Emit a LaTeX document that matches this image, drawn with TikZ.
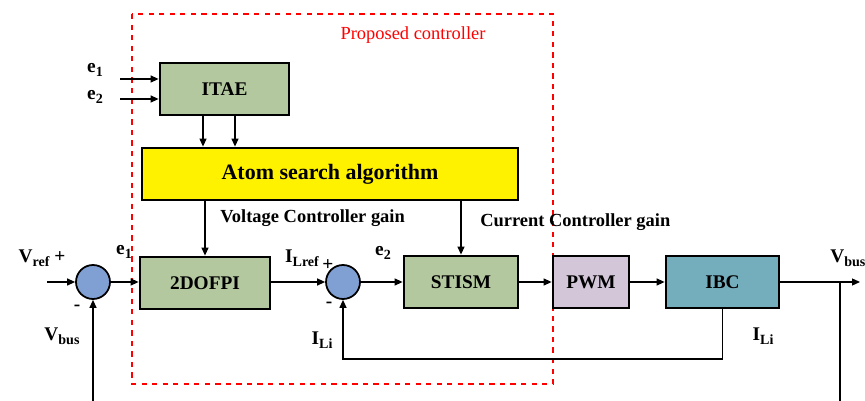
\documentclass[tikz,border=0pt]{standalone}
\usepackage{fontspec}
\setmainfont{Liberation Serif}
\usepackage{tikz}
\usetikzlibrary{shapes,arrows.meta,positioning,calc}
\usepackage{xcolor}
\definecolor{gblock}{RGB}{180,200,160}
\definecolor{pblock}{RGB}{210,198,216}
\definecolor{tblock}{RGB}{116,174,188}
\definecolor{sumblue}{RGB}{128,159,211}
\newcommand{\lsub}[1]{\raisebox{-0.45ex}{\fontsize{8}{9}\selectfont #1}}

\begin{document}
\begin{tikzpicture}[
    x=0.02cm, y=-0.02cm,
    block/.style={rectangle, draw, line width=1.6pt, fill=gblock, minimum height=1.04cm, align=center, font=\fontsize{11}{13}\selectfont\bfseries},
    sumnode/.style={circle, draw, line width=1pt, fill=sumblue, minimum size=0.68cm, inner sep=0pt},
    arrow/.style={-{Triangle[length=1.6mm,width=1.4mm]}, line width=0.7pt},
    lbl/.style={font=\fontsize{11}{13}\selectfont\bfseries, inner sep=0pt},
    every node/.style={font=\fontsize{11}{13}\selectfont}
]
    \useasboundingbox (0,0) rectangle (865,401);

    % Proposed controller frame
    \draw[red, dashed, line width=0.7pt] (132,14) rectangle (553,384);
    \node[red, font=\fontsize{10.5}{12}\selectfont] (prop) at (413,35) {Proposed controller};

    % Optimiser
    \node[block, minimum width=2.58cm] (itae) at (224.5,89) {ITAE};
    \node[block, fill=yellow, minimum width=7.52cm, font=\fontsize{12.5}{14}\selectfont\bfseries] (atom) at (330,174) {Atom search algorithm};

    % Loop blocks
    \node[sumnode] (sum1) at (93,282) {};
    \node[block, minimum width=2.6cm] (dofpi) at (205,283) {2DOFPI};
    \node[sumnode] (sum2) at (343,282) {};
    \node[block, minimum width=2.28cm] (stism) at (461,282) {STISM};
    \node[block, fill=pblock, minimum width=1.52cm] (pwm) at (591,282) {PWM};
    \node[block, fill=tblock, minimum width=2.26cm] (ibc) at (722.5,282) {IBC};

    % Free ends
    \coordinate (e1in) at (120,79);
    \coordinate (e2in) at (120,99);
    \coordinate (vin) at (47,282);
    \coordinate (vfb) at (93,401);
    \coordinate (vout) at (860,282);
    \coordinate (tap) at (840,282);
    \coordinate (tapend) at (840,401);
    \coordinate (ilfb) at (343,359);

    % Arrows
    \draw[arrow] (e1in) -- (e1in -| itae.west);
    \draw[arrow] (e2in) -- (e2in -| itae.west);
    \draw[arrow] ([xshift=-0.43cm]itae.south) -- ([xshift=-0.43cm]itae.south |- atom.north);
    \draw[arrow] ([xshift=0.21cm]itae.south) -- ([xshift=0.21cm]itae.south |- atom.north);
    \draw[arrow] (atom.south -| dofpi.north) -- (dofpi.north);
    \draw[arrow] (atom.south -| stism.north) -- (stism.north);
    \draw[arrow] (vin) -- (sum1.west);
    \draw[arrow] (sum1.east) -- (dofpi.west |- sum1.east);
    \draw[arrow] (dofpi.east |- sum2.west) -- (sum2.west);
    \draw[arrow] (sum2.east) -- (stism.west);
    \draw[arrow] (stism.east) -- (pwm.west);
    \draw[arrow] (pwm.east) -- (ibc.west);
    \draw[arrow] (ibc.east) -- (vout);
    \draw[line width=0.7pt] (tap) -- (tapend);
    \draw[arrow] (vfb) -- (sum1.south);
    \draw[arrow] (ibc.south) |- (ilfb) -- (sum2.south);

    % Labels
    \node[lbl] (le1) at (95,70) {e\lsub{1}};
    \node[lbl] (le2) at (95,97) {e\lsub{2}};
    \node[lbl] (lvref) at (42,258) {V\lsub{ref} +};
    \node[lbl] (le1b) at (124,252) {e\lsub{1}};
    \node[lbl] (lmin1) at (77,308) {-};
    \node[lbl] (lvbus) at (62,336) {V\lsub{bus}};
    \node[lbl, anchor=west, font=\fontsize{10.5}{12}\selectfont\bfseries] (lvgain) at (220,218) {Voltage Controller gain};
    \node[lbl, anchor=west, font=\fontsize{10.5}{12}\selectfont\bfseries] (lcgain) at (480,222) {Current Controller gain};
    \node[lbl] (lilref) at (302,258) {I\lsub{Lref}};
    \node[lbl] (lplus2) at (328,265) {+};
    \node[lbl] (le2b) at (383,253) {e\lsub{2}};
    \node[lbl] (lmin2) at (329,305) {-};
    \node[lbl] (lili) at (322,340) {I\lsub{Li}};
    \node[lbl] (lili2) at (763,336) {I\lsub{Li}};
    \node[lbl, anchor=west] (lvout) at (830,258) {V\lsub{bus}};
\end{tikzpicture}
\end{document}
